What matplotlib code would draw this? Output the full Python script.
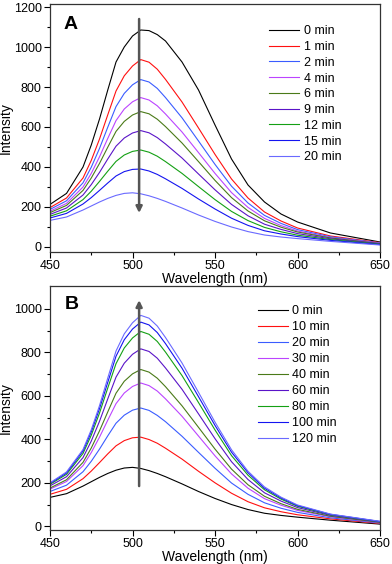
import numpy as np
import matplotlib
matplotlib.use('Agg')
import matplotlib.pyplot as plt

plt.rcParams['font.family'] = ['Liberation Sans', 'DejaVu Sans']

wl = [450, 460, 470, 475, 480, 485, 490, 495, 500, 505, 510, 515, 520, 530, 540, 550, 560, 570, 580, 590, 600, 620, 650]

# panel A: intensity decreasing with time
labels_a = ['0 min', '1 min', '2 min', '4 min', '6 min', '9 min', '12 min', '15 min', '20 min']
a_0 = [213, 268, 400, 510, 640, 785, 925, 1000, 1055, 1085, 1082, 1062, 1030, 925, 785, 610, 440, 310, 225, 165, 125, 70, 25]
a_1 = [197, 245, 345, 433, 540, 661, 780, 856, 905, 937, 924, 889, 838, 725, 595, 463, 340, 245, 175, 130, 95, 55, 22]
a_2 = [188, 231, 321, 399, 493, 599, 702, 768, 811, 837, 825, 793, 747, 646, 530, 413, 304, 220, 158, 118, 87, 51, 20]
a_4 = [179, 218, 300, 368, 451, 543, 632, 690, 726, 747, 735, 706, 665, 575, 472, 368, 272, 198, 143, 107, 80, 47, 19]
a_6 = [172, 208, 283, 345, 418, 499, 578, 628, 660, 677, 666, 639, 602, 520, 427, 333, 247, 180, 131, 99, 75, 45, 17]
a_9 = [163, 195, 260, 312, 373, 440, 504, 545, 570, 582, 571, 547, 515, 445, 365, 286, 213, 156, 114, 88, 67, 41, 16]
a_12 = [154, 181, 237, 279, 328, 379, 428, 460, 478, 485, 474, 454, 427, 368, 302, 237, 178, 132, 98, 76, 59, 37, 14]
a_15 = [145, 168, 215, 247, 283, 320, 355, 377, 388, 390, 380, 363, 341, 293, 240, 190, 144, 108, 81, 65, 52, 33, 12]
a_20 = [133, 150, 185, 205, 225, 243, 258, 268, 271, 266, 256, 243, 228, 195, 160, 128, 100, 77, 60, 50, 42, 28, 10]

# panel B: intensity recovering with time
labels_b = ['0 min', '10 min', '20 min', '30 min', '40 min', '60 min', '80 min', '100 min', '120 min']
b_0 = [133, 150, 185, 205, 225, 243, 258, 268, 271, 266, 256, 243, 228, 195, 160, 128, 100, 77, 60, 50, 42, 28, 10]
b_10 = [147, 170, 219, 254, 293, 333, 370, 394, 407, 410, 399, 382, 359, 309, 253, 200, 152, 113, 85, 67, 53, 34, 13]
b_20 = [160, 189, 251, 299, 355, 416, 474, 511, 534, 544, 533, 510, 481, 414, 340, 267, 199, 147, 108, 83, 64, 39, 15]
b_30 = [171, 206, 279, 339, 410, 488, 564, 613, 643, 659, 647, 622, 586, 506, 415, 324, 241, 175, 127, 97, 73, 44, 17]
b_40 = [176, 214, 294, 360, 439, 526, 612, 667, 701, 721, 709, 681, 642, 554, 455, 355, 263, 191, 138, 104, 78, 46, 18]
b_60 = [186, 228, 316, 392, 483, 586, 686, 750, 791, 816, 804, 773, 728, 630, 517, 403, 297, 215, 154, 116, 86, 50, 20]
b_80 = [193, 239, 335, 419, 521, 636, 748, 820, 866, 896, 883, 850, 801, 693, 569, 443, 325, 235, 168, 125, 92, 53, 21]
b_100 = [197, 245, 346, 434, 541, 662, 782, 858, 907, 939, 926, 891, 840, 727, 596, 464, 341, 246, 175, 130, 95, 55, 22]
b_120 = [200, 250, 353, 444, 555, 682, 806, 885, 936, 970, 957, 921, 868, 751, 616, 479, 352, 253, 181, 134, 98, 56, 23]

series_a = [a_0, a_1, a_2, a_4, a_6, a_9, a_12, a_15, a_20]
series_b = [b_0, b_10, b_20, b_30, b_40, b_60, b_80, b_100, b_120]
colors = ['#000000', '#ff1010', '#3a5cff', '#bb44ff', '#4a7a18', '#5a14c8', '#14a014', '#1414f0', '#6a6aff']

fig = plt.figure(figsize=(3.92, 5.64), dpi=100)
ax_a = fig.add_axes([0.1276, 0.5532, 0.8418, 0.4397])
ax_b = fig.add_axes([0.1276, 0.0603, 0.8418, 0.4326])


def style_axis(ax, ylim, yticks):
    ax.set_xlim(450, 650)
    ax.set_ylim(*ylim)
    ax.set_xticks([450, 500, 550, 600, 650])
    ax.set_xticks([475, 525, 575, 625], minor=True)
    ax.set_yticks(yticks)
    ax.set_yticks([y + 100 for y in yticks[:-1]], minor=True)
    ax.tick_params(which='major', direction='out', length=4, width=0.8, labelsize=9,
                   top=False, right=False, pad=2)
    ax.tick_params(which='minor', direction='out', length=2.5, width=0.8,
                   top=False, right=False)
    for s in ax.spines.values():
        s.set_linewidth(0.9)
        s.set_color('#333333')
    ax.set_xlabel('Wavelength (nm)', fontsize=10, va='top')
    ax.set_ylabel('Intensity', fontsize=10)
    ax.xaxis.set_label_coords(0.5, -0.08)
    ax.yaxis.set_label_coords(-0.112, 0.5)


for ys, lab, c in zip(series_a, labels_a, colors):
    ax_a.plot(wl, ys, color=c, lw=0.8, label=lab)
style_axis(ax_a, (-25, 1215), [0, 200, 400, 600, 800, 1000, 1200])
ax_a.annotate('', xy=(504, 170), xytext=(504, 1140),
              arrowprops=dict(arrowstyle='-|>', color='#555555', lw=1.8, mutation_scale=9,
                              shrinkA=0, shrinkB=0))
ax_a.text(0.04, 0.952, 'A', transform=ax_a.transAxes, fontsize=14, fontweight='bold', va='top')
ax_a.legend(loc='upper left', bbox_to_anchor=(0.664, 0.914), frameon=False, fontsize=9,
            handlelength=2.4, handletextpad=0.35, labelspacing=0.3, borderpad=0, borderaxespad=0)

for ys, lab, c in zip(series_b, labels_b, colors):
    ax_b.plot(wl, ys, color=c, lw=0.8, label=lab)
style_axis(ax_b, (-17, 1105), [0, 200, 400, 600, 800, 1000])
ax_b.annotate('', xy=(504, 1040), xytext=(504, 185),
              arrowprops=dict(arrowstyle='-|>', color='#555555', lw=1.8, mutation_scale=9,
                              shrinkA=0, shrinkB=0))
ax_b.text(0.045, 0.96, 'B', transform=ax_b.transAxes, fontsize=14, fontweight='bold', va='top')
ax_b.legend(loc='upper left', bbox_to_anchor=(0.63, 0.922), frameon=False, fontsize=9,
            handlelength=2.4, handletextpad=0.32, labelspacing=0.32, borderpad=0, borderaxespad=0)

fig.savefig('out.png', dpi=100)
